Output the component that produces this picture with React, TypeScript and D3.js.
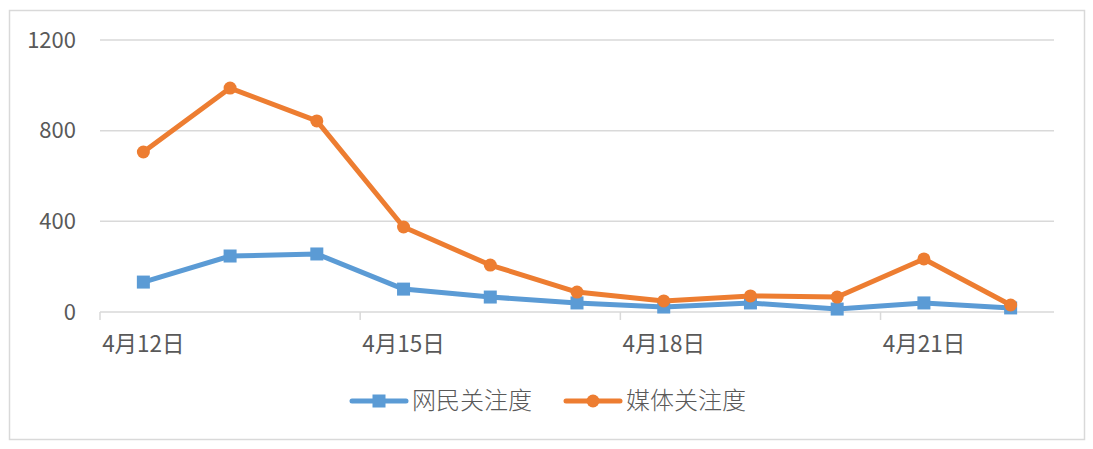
import { useEffect, useRef } from "react";
import * as d3 from "d3";

const dates = [
  "4月12日",
  "4月13日",
  "4月14日",
  "4月15日",
  "4月16日",
  "4月17日",
  "4月18日",
  "4月19日",
  "4月20日",
  "4月21日",
  "4月22日",
];
const netizenValues = [132, 247, 256, 101, 66, 40, 22, 40, 13, 40, 18];
const mediaValues = [706, 988, 843, 375, 207, 88, 49, 71, 66, 234, 31];
const yTicks = [0, 400, 800, 1200];
const seriesNames = ["网民关注度", "媒体关注度"];

const BLUE = "#5B9BD5";
const ORANGE = "#ED7D31";
const GRID = "#D9D9D9";
const TEXT = "#595959";
const FONT = "'Noto Sans CJK SC', 'Noto Sans', sans-serif";

export default function App() {
  const ref = useRef<SVGSVGElement>(null);

  useEffect(() => {
    if (!ref.current) return;
    const width = 1093;
    const height = 449;
    const marginLeft = 100;
    const marginRight = 39;
    const marginTop = 40;
    const plotBottom = 312;

    const svg = d3.select(ref.current);
    svg.selectAll("*").remove();
    svg
      .attr("width", width)
      .attr("height", height)
      .attr("viewBox", `0 0 ${width} ${height}`)
      .style("font-family", FONT);

    svg
      .append("rect")
      .attr("width", width)
      .attr("height", height)
      .attr("fill", "white");

    // outer chart frame
    svg
      .append("rect")
      .attr("x", 9.5)
      .attr("y", 10.5)
      .attr("width", 1075)
      .attr("height", 429)
      .attr("fill", "none")
      .attr("stroke", GRID)
      .attr("stroke-width", 1.5);

    const x = d3
      .scaleBand<string>()
      .domain(dates)
      .range([marginLeft, width - marginRight])
      .padding(0);

    const y = d3.scaleLinear().domain([0, 1200]).range([plotBottom, marginTop]);

    // gridlines and y labels
    const yAxis = svg.append("g");
    yTicks.forEach((t) => {
      yAxis
        .append("line")
        .attr("x1", marginLeft)
        .attr("x2", width - marginRight)
        .attr("y1", y(t))
        .attr("y2", y(t))
        .attr("stroke", GRID)
        .attr("stroke-width", 1.5);
      yAxis
        .append("text")
        .attr("x", 76)
        .attr("y", y(t))
        .attr("dy", "0.35em")
        .attr("text-anchor", "end")
        .attr("fill", TEXT)
        .attr("font-size", 22)
        .text(t);
    });

    // x tick marks at every 3rd category boundary
    const xAxis = svg.append("g");
    dates.forEach((d, i) => {
      if (i % 3 !== 0) return;
      const bx = x(d)!;
      xAxis
        .append("line")
        .attr("x1", bx)
        .attr("x2", bx)
        .attr("y1", plotBottom)
        .attr("y2", plotBottom + 8)
        .attr("stroke", GRID)
        .attr("stroke-width", 1.5);
      xAxis
        .append("text")
        .attr("x", bx + x.bandwidth() / 2)
        .attr("y", 352)
        .attr("text-anchor", "middle")
        .attr("fill", TEXT)
        .attr("font-size", 22.5)
        .text(d);
    });

    const cx = (d: string) => x(d)! + x.bandwidth() / 2;
    const line = d3
      .line<number>()
      .x((_, i) => cx(dates[i]))
      .y((v) => y(v));

    const drawSeries = (values: number[], color: string, square: boolean) => {
      const g = svg.append("g");
      g.append("path")
        .attr("d", line(values))
        .attr("fill", "none")
        .attr("stroke", color)
        .attr("stroke-width", 5)
        .attr("stroke-linejoin", "round")
        .attr("stroke-linecap", "round");
      values.forEach((v, i) => {
        if (square) {
          g.append("rect")
            .attr("x", cx(dates[i]) - 6.5)
            .attr("y", y(v) - 6.5)
            .attr("width", 13)
            .attr("height", 13)
            .attr("fill", color);
        } else {
          g.append("circle")
            .attr("cx", cx(dates[i]))
            .attr("cy", y(v))
            .attr("r", 6.5)
            .attr("fill", color);
        }
      });
    };

    drawSeries(netizenValues, BLUE, true);
    drawSeries(mediaValues, ORANGE, false);

    // legend
    const legendY = 401;
    const legendItems = [
      { name: seriesNames[0], color: BLUE, square: true, x0: 352 },
      { name: seriesNames[1], color: ORANGE, square: false, x0: 566 },
    ];
    legendItems.forEach((item) => {
      const g = svg.append("g");
      g.append("line")
        .attr("x1", item.x0)
        .attr("x2", item.x0 + 54)
        .attr("y1", legendY)
        .attr("y2", legendY)
        .attr("stroke", item.color)
        .attr("stroke-width", 5)
        .attr("stroke-linecap", "round");
      if (item.square) {
        g.append("rect")
          .attr("x", item.x0 + 27 - 6.5)
          .attr("y", legendY - 6.5)
          .attr("width", 13)
          .attr("height", 13)
          .attr("fill", item.color);
      } else {
        g.append("circle")
          .attr("cx", item.x0 + 27)
          .attr("cy", legendY)
          .attr("r", 6.5)
          .attr("fill", item.color);
      }
      g.append("text")
        .attr("x", item.x0 + 60)
        .attr("y", legendY)
        .attr("dy", "0.35em")
        .attr("fill", TEXT)
        .attr("font-size", 24)
        .attr("font-weight", 300)
        .text(item.name);
    });
  }, []);

  return (
    <div style={{ position: "fixed", left: 0, top: 0 }}>
      <svg ref={ref} style={{ display: "block" }} />
    </div>
  );
}
